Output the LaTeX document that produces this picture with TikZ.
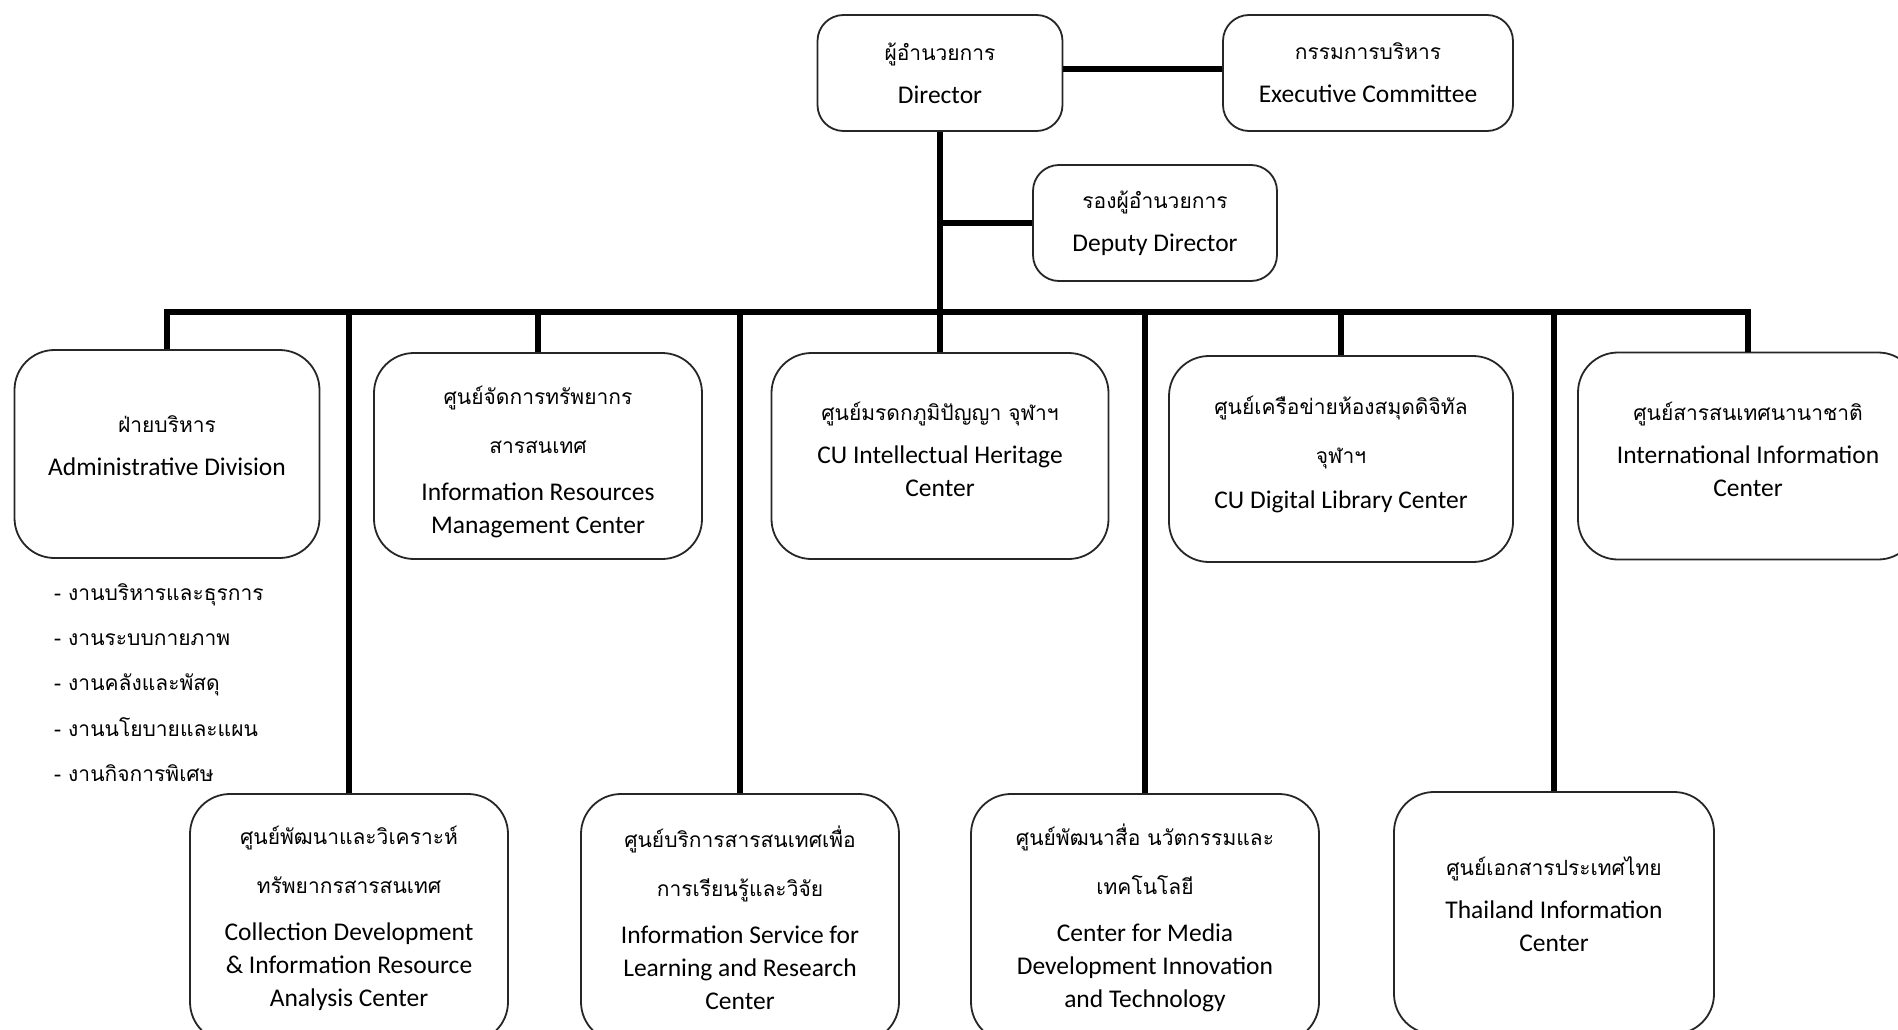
\documentclass[tikz,border=0pt]{standalone}
\usepackage{fontspec}
\setmainfont{Carlito}
\newfontfamily\thaifont[Script=Thai]{Loma}
\newcommand{\thx}[1]{{\thaifont\fontsize{21}{33}\selectfont #1}}
\begin{document}
\begin{tikzpicture}[x=1pt,y=-1pt,
  box/.style={draw=black!85, fill=white, line width=1.8pt, rounded corners=26pt, align=center,
    font=\fontsize{25.5}{33}\selectfont, inner sep=0pt},
  bigbox/.style={box, rounded corners=40pt},
  conn/.style={line width=6pt, line join=miter},
  sub/.style={anchor=base west, inner sep=0pt, font=\thaifont\fontsize{21}{33}\selectfont}]
\useasboundingbox (0,0) rectangle (1898,1030);
\fill[white] (0,0) rectangle (1898,1030);

% top
\node[box, minimum width=245pt, minimum height=116pt] (dir) at (940,73)
  {\thx{ผู้อำนวยการ}\\[10pt]Director};
\node[box, minimum width=290pt, minimum height=116pt] (exe) at (1368,73)
  {\thx{กรรมการบริหาร}\\[10pt]Executive Committee};
\node[box, minimum width=244pt, minimum height=116pt] (dep) at (1155,223)
  {\thx{รองผู้อำนวยการ}\\[10pt]Deputy Director};

% first row
\node[bigbox, minimum width=305pt, minimum height=208pt] (adm) at (167,454)
  {\thx{ฝ่ายบริหาร}\\[10pt]Administrative Division\\[-16pt]};
\node[bigbox, minimum width=328pt, minimum height=206pt] (ires) at (538,456)
  {\thx{ศูนย์จัดการทรัพยากร}\\[16pt]\thx{สารสนเทศ}\\[14pt]Information Resources\\Management Center\\[-41pt]};
\node[bigbox, minimum width=337pt, minimum height=206pt] (her) at (940,456)
  {\thx{ศูนย์มรดกภูมิปัญญา จุฬาฯ}\\[10pt]CU Intellectual Heritage\\Center\\[-20pt]};
\node[bigbox, minimum width=344pt, minimum height=206pt] (dig) at (1341,459)
  {\thx{ศูนย์เครือข่ายห้องสมุดดิจิทัล}\\[16pt]\thx{จุฬาฯ}\\[12pt]CU Digital Library Center\\[-20pt]};
\node[bigbox, minimum width=340pt, minimum height=207pt] (intl) at (1748,456)
  {\thx{ศูนย์สารสนเทศนานาชาติ}\\[10pt]International Information\\Center\\[-20pt]};

% second row
\node[bigbox, minimum width=318pt, minimum height=248pt] (col) at (349,918)
  {\thx{ศูนย์พัฒนาและวิเคราะห์}\\[16pt]\thx{ทรัพยากรสารสนเทศ}\\[14pt]Collection Development\\\& Information Resource\\Analysis Center};
\node[bigbox, minimum width=318pt, minimum height=248pt] (isv) at (740,918)
  {\thx{ศูนย์บริการสารสนเทศเพื่อ}\\[16pt]\thx{การเรียนรู้และวิจัย}\\[14pt]Information Service for\\Learning and Research\\Center};
\node[bigbox, minimum width=348pt, minimum height=248pt] (med) at (1145,918)
  {\thx{ศูนย์พัฒนาสื่อ นวัตกรรมและ}\\[16pt]\thx{เทคโนโลยี}\\[14pt]Center for Media\\Development Innovation\\and Technology};
\node[bigbox, minimum width=320pt, minimum height=242pt] (tha) at (1554,913)
  {\thx{ศูนย์เอกสารประเทศไทย}\\[10pt]Thailand Information\\Center\\[-16pt]};

% admin sub-list
\node[sub] (s1) at (54,600) {- งานบริหารและธุรการ};
\node[sub] (s2) at (54,645) {- งานระบบกายภาพ};
\node[sub] (s3) at (54,690) {- งานคลังและพัสดุ};
\node[sub] (s4) at (54,736) {- งานนโยบายและแผน};
\node[sub] (s5) at (54,781) {- งานกิจการพิเศษ};

% connectors
\coordinate (busY) at (0,312);
\draw[conn] ([yshift=4pt]dir.east) -- ([yshift=4pt]exe.west);
\draw[conn] (dir.south) -- (her.north);
\draw[conn] (dep.west) -- (dep.west -| dir.south);
\draw[conn] (adm.north) -- (adm.north |- busY) -- (intl.north |- busY) -- (intl.north);
\draw[conn] (ires.north) -- (ires.north |- busY);
\draw[conn] (dig.north) -- (dig.north |- busY);
\draw[conn] (col.north) -- (col.north |- busY);
\draw[conn] (isv.north) -- (isv.north |- busY);
\draw[conn] (med.north) -- (med.north |- busY);
\draw[conn] (tha.north) -- (tha.north |- busY);
\end{tikzpicture}
\end{document}
